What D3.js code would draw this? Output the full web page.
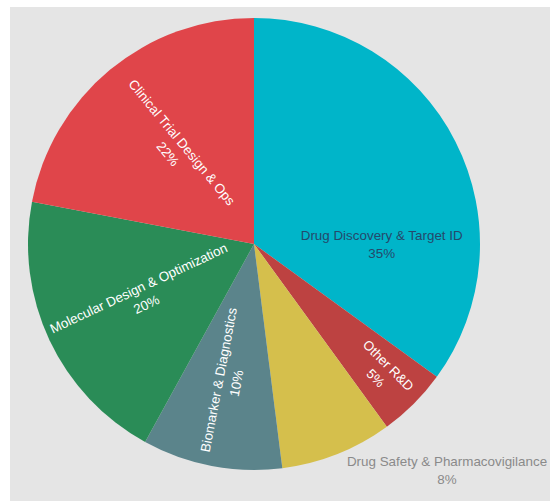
<!DOCTYPE html>
<html>
<head>
<meta charset="utf-8">
<script src="https://cdn.jsdelivr.net/npm/d3@7/dist/d3.min.js"></script>
<style>
  html, body { margin: 0; padding: 0; background: #ffffff; }
  svg { display: block; }
</style>
</head>
<body>
<div id="chart"></div>
<script>
var categories = [
  "Drug Discovery & Target ID",
  "Other R&D",
  "Drug Safety & Pharmacovigilance",
  "Biomarker & Diagnostics",
  "Molecular Design & Optimization",
  "Clinical Trial Design & Ops"
];
var values = [35, 5, 8, 10, 20, 22];
var colors = ["#00b5c9", "#bd4241", "#d5bf4c", "#5b848b", "#2a8c57", "#e0454a"];

// label placement (layout, not data): radius fraction, orientation, optional angle override
var labelLayout = [
  { r: 0.565, mode: "h", angle: 90 },
  { r: 0.80, mode: "radial" },
  { mode: "outside", dx: 193, dy: 226 },
  { r: 0.62, mode: "radial" },
  { r: 0.545, mode: "radial" },
  { r: 0.55, mode: "radial" }
];
var textColors = ["#24496b", "#ffffff", "#8a8a8a", "#ffffff", "#ffffff", "#ffffff"];

var width = 550, height = 501;
var cx = 254, cy = 244, radius = 226;
var fontSize = 13.4, lineGap = 18;

var svg = d3.select("#chart").append("svg")
  .attr("width", width)
  .attr("height", height);

svg.append("rect")
  .attr("x", 10).attr("y", 7)
  .attr("width", width - 10).attr("height", height - 7)
  .attr("fill", "#e5e5e5");

var data = categories.map(function (c, i) {
  return { name: c, value: values[i], color: colors[i], i: i };
});

var pie = d3.pie().sort(null).value(function (d) { return d.value; });
var arc = d3.arc().innerRadius(0).outerRadius(radius);

var g = svg.append("g").attr("transform", "translate(" + cx + "," + cy + ")");

var arcs = pie(data);

g.selectAll("path.slice")
  .data(arcs)
  .enter().append("path")
  .attr("class", "slice")
  .attr("d", arc)
  .attr("fill", function (d) { return d.data.color; });

var total = d3.sum(values);

var labels = g.selectAll("g.label")
  .data(arcs)
  .enter().append("g")
  .attr("class", "label")
  .attr("transform", function (d) {
    var L = labelLayout[d.data.i];
    if (L.mode === "outside") {
      return "translate(" + L.dx + "," + L.dy + ")";
    }
    var mid = (d.startAngle + d.endAngle) / 2;
    var a = L.angle !== undefined ? L.angle * Math.PI / 180 : mid;
    var x = Math.sin(a) * radius * L.r;
    var y = -Math.cos(a) * radius * L.r;
    var rot = 0;
    if (L.mode === "radial") {
      rot = mid * 180 / Math.PI - 90;
      while (rot > 180) rot -= 360;
      while (rot < -180) rot += 360;
      if (rot > 90) rot -= 180;
      if (rot < -90) rot += 180;
    }
    return "translate(" + x + "," + y + ") rotate(" + rot + ")";
  });

labels.each(function (d) {
  var el = d3.select(this);
  var pct = Math.round(d.data.value / total * 100) + "%";
  [d.data.name, pct].forEach(function (t, k) {
    el.append("text")
      .attr("x", 0)
      .attr("y", (k - 0.5) * lineGap)
      .attr("text-anchor", "middle")
      .attr("dominant-baseline", "central")
      .attr("font-family", "'Liberation Sans', Arial, Helvetica, sans-serif")
      .attr("font-size", fontSize)
      .attr("fill", textColors[d.data.i])
      .text(t);
  });
});
</script>
</body>
</html>
